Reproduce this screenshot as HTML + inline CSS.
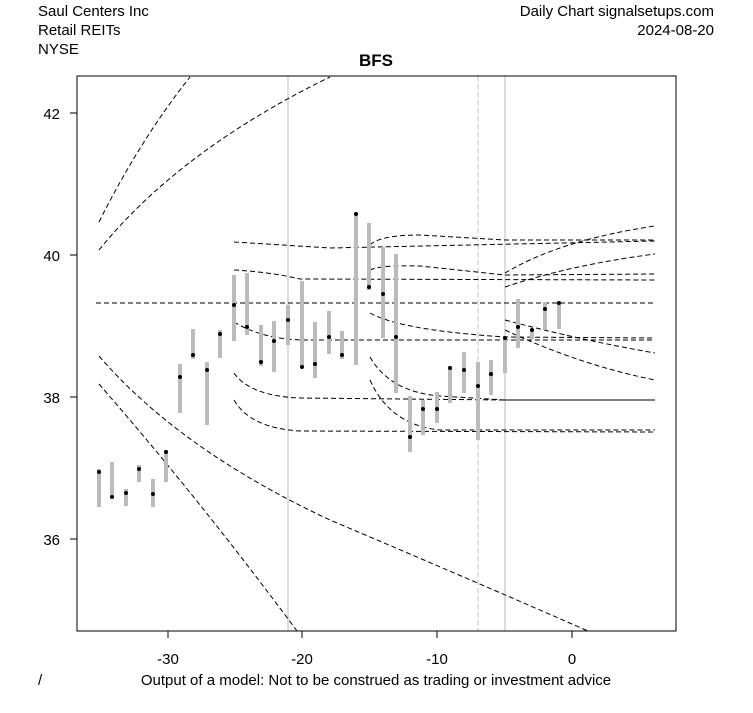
<!DOCTYPE html>
<html><head><style>
body{margin:0;background:#fff;}
svg text{font-family:"Liberation Sans",Arial,sans-serif;}
</style></head><body>
<svg width="753" height="708" viewBox="0 0 753 708" xmlns="http://www.w3.org/2000/svg">
<rect width="753" height="708" fill="#fff"/>
<g font-size="15" fill="#000">
<text x="38" y="16">Saul Centers Inc</text>
<text x="38" y="35">Retail REITs</text>
<text x="38" y="54">NYSE</text>
<text x="714" y="16" text-anchor="end">Daily Chart signalsetups.com</text>
<text x="714" y="35" text-anchor="end">2024-08-20</text>
<text x="376" y="66" text-anchor="middle" font-weight="bold" font-size="17">BFS</text>
<text x="38" y="685">/</text>
<text x="376" y="685" text-anchor="middle">Output of a model: Not to be construed as trading or investment advice</text>
</g>
<g font-size="15" text-anchor="end">
<text x="60" y="119">42</text><text x="60" y="261">40</text><text x="60" y="403">38</text><text x="60" y="545">36</text>
</g>
<g stroke="#000"><line x1="70" y1="113" x2="77" y2="113"/><line x1="70" y1="255" x2="77" y2="255"/><line x1="70" y1="397" x2="77" y2="397"/><line x1="70" y1="539" x2="77" y2="539"/>
<line x1="168" y1="631" x2="168" y2="638"/><line x1="302" y1="631" x2="302" y2="638"/><line x1="437" y1="631" x2="437" y2="638"/><line x1="572" y1="631" x2="572" y2="638"/></g>
<g font-size="15" text-anchor="middle"><text x="168" y="664">-30</text><text x="302" y="664">-20</text><text x="437" y="664">-10</text><text x="572" y="664">0</text></g>
<g stroke="#bbb" stroke-width="1"><line x1="288" y1="76" x2="288" y2="631"/><line x1="505" y1="76" x2="505" y2="631"/><line x1="478" y1="76" x2="478" y2="631" stroke-dasharray="5,3"/></g>
<g fill="none" stroke="#000" stroke-width="1" stroke-dasharray="5,3">
<line x1="96" y1="303" x2="655" y2="303"/>
<path d="M99,222 Q140,140 190,77"/>
<path d="M99,250 Q180,150 330,77"/>
<path d="M99,356 Q180,450 330,520 Q460,575 588,631"/>
<path d="M99,384 Q200,500 297,631"/>
<path d="M234,242 L330,248 L655,241"/>
<path d="M234,270 Q270,272 300,279 L655,280"/>
<path d="M234,322 Q260,338 300,340 L655,340"/>
<path d="M234,373 Q250,396 300,398 L505,400"/>
<path d="M234,400 Q250,428 300,431 L655,432"/>
<path d="M370,245 Q380,235 420,235 L505,240 L655,240"/>
<path d="M370,270 Q380,265 420,266 L505,275 L655,274"/>
<path d="M370,313 Q400,330 505,337 L655,338"/>
<path d="M370,357 Q390,392 440,396 L505,400"/>
<path d="M370,380 Q390,425 440,430 L655,430"/>
<path d="M505,273 Q560,240 655,226"/>
<path d="M505,287 Q570,265 655,254"/>
<path d="M505,320 Q580,340 655,353"/>
<path d="M505,330 Q580,365 655,380"/>
</g>
<line x1="505" y1="400" x2="655" y2="400" stroke="#000"/>
<g stroke="#bbb" stroke-width="4">
<line x1="99" y1="469" x2="99" y2="507"/><line x1="112" y1="462" x2="112" y2="497"/><line x1="126" y1="489" x2="126" y2="506"/><line x1="139" y1="465" x2="139" y2="482"/><line x1="153" y1="479" x2="153" y2="507"/><line x1="166" y1="450" x2="166" y2="482"/><line x1="180" y1="364" x2="180" y2="413"/><line x1="193" y1="329" x2="193" y2="359"/><line x1="207" y1="362" x2="207" y2="425"/><line x1="220" y1="330" x2="220" y2="358"/><line x1="234" y1="275" x2="234" y2="341"/><line x1="247" y1="273" x2="247" y2="335"/><line x1="261" y1="325" x2="261" y2="366"/><line x1="274" y1="321" x2="274" y2="372"/><line x1="288" y1="305" x2="288" y2="345"/><line x1="302" y1="281" x2="302" y2="368"/><line x1="315" y1="322" x2="315" y2="378"/><line x1="329" y1="311" x2="329" y2="354"/><line x1="342" y1="331" x2="342" y2="359"/><line x1="356" y1="213" x2="356" y2="365"/><line x1="369" y1="223" x2="369" y2="290"/><line x1="383" y1="247" x2="383" y2="338"/><line x1="396" y1="254" x2="396" y2="393"/><line x1="410" y1="396" x2="410" y2="452"/><line x1="423" y1="400" x2="423" y2="435"/><line x1="437" y1="392" x2="437" y2="423"/><line x1="450" y1="366" x2="450" y2="403"/><line x1="464" y1="352" x2="464" y2="393"/><line x1="478" y1="362" x2="478" y2="440"/><line x1="491" y1="360" x2="491" y2="395"/><line x1="505" y1="337" x2="505" y2="373"/><line x1="518" y1="299" x2="518" y2="348"/><line x1="532" y1="329" x2="532" y2="339"/><line x1="545" y1="302" x2="545" y2="330"/><line x1="559" y1="302" x2="559" y2="329"/>
</g>
<g fill="#000">
<circle cx="99" cy="472" r="2"/><circle cx="112" cy="497" r="2"/><circle cx="126" cy="493" r="2"/><circle cx="139" cy="469" r="2"/><circle cx="153" cy="494" r="2"/><circle cx="166" cy="452" r="2"/><circle cx="180" cy="377" r="2"/><circle cx="193" cy="355" r="2"/><circle cx="207" cy="370" r="2"/><circle cx="220" cy="334" r="2"/><circle cx="234" cy="305" r="2"/><circle cx="247" cy="327" r="2"/><circle cx="261" cy="362" r="2"/><circle cx="274" cy="341" r="2"/><circle cx="288" cy="320" r="2"/><circle cx="302" cy="367" r="2"/><circle cx="315" cy="364" r="2"/><circle cx="329" cy="337" r="2"/><circle cx="342" cy="355" r="2"/><circle cx="356" cy="214" r="2"/><circle cx="369" cy="287" r="2"/><circle cx="383" cy="294" r="2"/><circle cx="396" cy="337" r="2"/><circle cx="410" cy="437" r="2"/><circle cx="423" cy="409" r="2"/><circle cx="437" cy="409" r="2"/><circle cx="450" cy="368" r="2"/><circle cx="464" cy="370" r="2"/><circle cx="478" cy="386" r="2"/><circle cx="491" cy="374" r="2"/><circle cx="505" cy="338" r="2"/><circle cx="518" cy="327" r="2"/><circle cx="532" cy="330" r="2"/><circle cx="545" cy="309" r="2"/><circle cx="559" cy="303" r="2"/>
</g>
<rect x="77" y="76" width="599" height="555" fill="none" stroke="#000" stroke-width="1"/>
</svg>
</body></html>
